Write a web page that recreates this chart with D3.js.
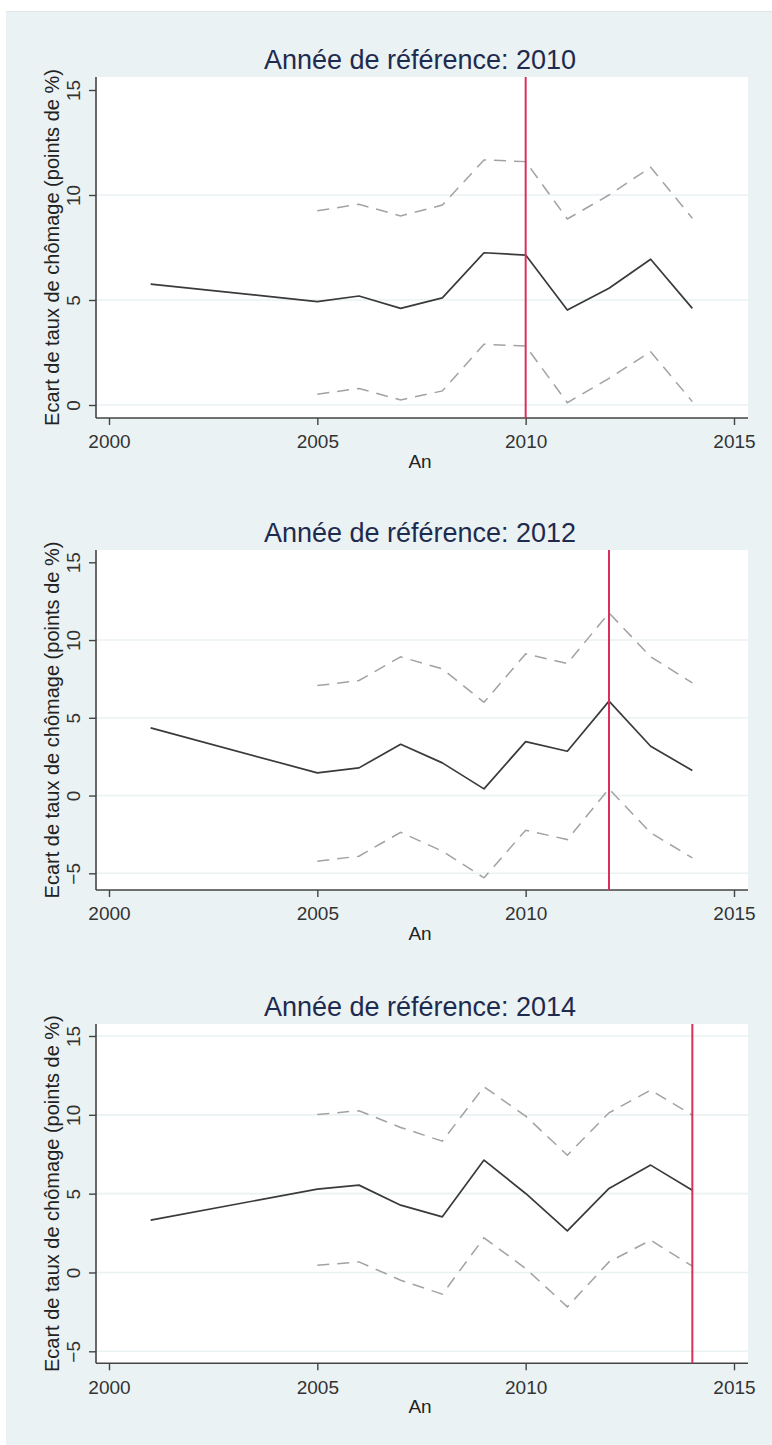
<!DOCTYPE html>
<html>
<head>
<meta charset="utf-8">
<script src="https://cdn.jsdelivr.net/npm/d3@7"></script>
<style>
  html, body { margin: 0; padding: 0; background: #ffffff; }
  svg { display: block; }
  text { font-family: "Liberation Sans", Arial, Helvetica, sans-serif; }
</style>
</head>
<body>
<script>
// Years covered by each series
const estimateYears = [2001, 2005, 2006, 2007, 2008, 2009, 2010, 2011, 2012, 2013, 2014];
const intervalYears = [2005, 2006, 2007, 2008, 2009, 2010, 2011, 2012, 2013, 2014];

// Reference year 2010
const estimate2010 = [5.76, 4.92, 5.19, 4.60, 5.10, 7.25, 7.14, 4.52, 5.56, 6.94, 4.60];
const upper2010    = [9.25, 9.56, 9.00, 9.52, 11.67, 11.59, 8.86, 10.00, 11.32, 8.89];
const lower2010    = [0.51, 0.79, 0.24, 0.67, 2.89, 2.81, 0.11, 1.27, 2.54, 0.16];

// Reference year 2012
const estimate2012 = [4.35, 1.46, 1.78, 3.30, 2.10, 0.43, 3.47, 2.85, 6.07, 3.17, 1.61];
const upper2012    = [7.07, 7.40, 8.92, 8.15, 6.00, 9.11, 8.49, 11.75, 8.92, 7.25];
const lower2012    = [-4.22, -3.90, -2.36, -3.58, -5.29, -2.23, -2.83, 0.43, -2.40, -4.01];

// Reference year 2014
const estimate2014 = [3.32, 5.29, 5.54, 4.27, 3.53, 7.13, 5.01, 2.64, 5.33, 6.81, 5.22];
const upper2014    = [10.02, 10.26, 9.20, 8.33, 11.78, 9.92, 7.44, 10.13, 11.57, 9.98];
const lower2014    = [0.46, 0.67, -0.49, -1.38, 2.20, 0.25, -2.18, 0.67, 2.05, 0.40];

const referenceYears = [2010, 2012, 2014];
const xTickValues = [2000, 2005, 2010, 2015];
const yTicks2010 = [0, 5, 10, 15];
const yTicks2012 = [-5, 0, 5, 10, 15];
const yTicks2014 = [-5, 0, 5, 10, 15];

const titlePrefix = "Année de référence: ";
const xTitle = "An";
const yTitle = "Ecart de taux de chômage (points de %)";

const panels = [
  { ref: referenceYears[0], est: estimate2010, up: upper2010, lo: lower2010, ticks: yTicks2010 },
  { ref: referenceYears[1], est: estimate2012, up: upper2012, lo: lower2012, ticks: yTicks2012 },
  { ref: referenceYears[2], est: estimate2014, up: upper2014, lo: lower2014, ticks: yTicks2014 }
];

// Page geometry for each panel (plot region in pixels; y range spans the outer ticks)
const frames = [
  { top: 77,   bottom: 418,    tickLo: 405,    tickHi: 90,   gridTop: false },
  { top: 550,  bottom: 890,    tickLo: 873.3,  tickHi: 562.3, gridTop: false },
  { top: 1024, bottom: 1363.3, tickLo: 1351.3, tickHi: 1036, gridTop: true }
];
const plotLeft = 96, plotRight = 748;

const W = 772, H = 1445;
const svg = d3.select("body").append("svg").attr("width", W).attr("height", H);

// Graph region background
svg.append("rect").attr("x", 6).attr("y", 11).attr("width", W - 6).attr("height", H - 11)
  .attr("fill", "#eaf2f3");
svg.append("line").attr("x1", 6).attr("x2", W).attr("y1", 11.5).attr("y2", 11.5)
  .attr("stroke", "#dfe6e8").attr("stroke-width", 1);

const x = d3.scaleLinear().domain([2000, 2015]).range([109, 734]);

panels.forEach((p, i) => {
  const f = frames[i];
  const ext = d3.extent(p.ticks);
  const y = d3.scaleLinear().domain(ext).range([f.tickLo, f.tickHi]);
  const g = svg.append("g");

  // Plot region
  g.append("rect").attr("x", plotLeft).attr("y", f.top)
    .attr("width", plotRight - plotLeft).attr("height", f.bottom - f.top)
    .attr("fill", "#ffffff");

  // Horizontal grid lines
  const gridVals = f.gridTop ? p.ticks : p.ticks.filter(v => v !== ext[1]);
  g.selectAll("line.grid").data(gridVals).join("line").attr("class", "grid")
    .attr("x1", plotLeft).attr("x2", plotRight)
    .attr("y1", d => y(d)).attr("y2", d => y(d))
    .attr("stroke", "#eaf2f3").attr("stroke-width", 1.6);

  // Y axis
  const yAxis = d3.axisLeft(y).tickValues(p.ticks).tickSize(7).tickPadding(9).tickFormat(d3.format("d"));
  const ya = g.append("g").attr("transform", `translate(${plotLeft},0)`).call(yAxis);
  ya.select(".domain").attr("d", `M0,${f.top}V${f.bottom}`).attr("stroke", "#444").attr("stroke-width", 1.6);
  ya.selectAll(".tick line").attr("stroke", "#444").attr("stroke-width", 1.4);
  ya.selectAll(".tick text")
    .attr("font-size", 19).attr("fill", "#333")
    .attr("x", null).attr("dy", null)
    .attr("text-anchor", "middle")
    .attr("transform", "translate(-16,0) rotate(-90)");

  // X axis
  const xAxis = d3.axisBottom(x).tickValues(xTickValues).tickSize(7).tickPadding(10).tickFormat(d3.format("d"));
  const xa = g.append("g").attr("transform", `translate(0,${f.bottom})`).call(xAxis);
  xa.select(".domain").attr("d", `M${plotLeft},0H${plotRight}`).attr("stroke", "#444").attr("stroke-width", 1.6);
  xa.selectAll(".tick line").attr("stroke", "#444").attr("stroke-width", 1.4);
  xa.selectAll(".tick text").attr("font-size", 19).attr("fill", "#333");

  // Confidence bounds
  const line = d3.line().x(d => x(d[0])).y(d => y(d[1]));
  [p.up, p.lo].forEach(arr => {
    g.append("path").datum(intervalYears.map((yr, k) => [yr, arr[k]]))
      .attr("d", line).attr("fill", "none")
      .attr("stroke", "#a2a2a2").attr("stroke-width", 1.5)
      .attr("stroke-dasharray", "12,8");
  });

  // Point estimate
  g.append("path").datum(estimateYears.map((yr, k) => [yr, p.est[k]]))
    .attr("d", line).attr("fill", "none")
    .attr("stroke", "#3a3a3a").attr("stroke-width", 1.7)
    .attr("stroke-linejoin", "round");

  // Reference year marker
  g.append("line")
    .attr("x1", x(p.ref)).attr("x2", x(p.ref))
    .attr("y1", f.top).attr("y2", f.bottom)
    .attr("stroke", "#d8305a").attr("stroke-width", 2);

  // Titles
  g.append("text").attr("x", 420).attr("y", f.top - 8)
    .attr("text-anchor", "middle").attr("font-size", 27).attr("fill", "#1e2b4e")
    .text(titlePrefix + p.ref);
  g.append("text").attr("x", 420).attr("y", f.bottom + 50)
    .attr("text-anchor", "middle").attr("font-size", 19).attr("fill", "#222")
    .text(xTitle);
  g.append("text")
    .attr("transform", `translate(59,${(f.top + f.bottom) / 2}) rotate(-90)`)
    .attr("text-anchor", "middle").attr("font-size", 20).attr("fill", "#222")
    .text(yTitle);
});
</script>
</body>
</html>
